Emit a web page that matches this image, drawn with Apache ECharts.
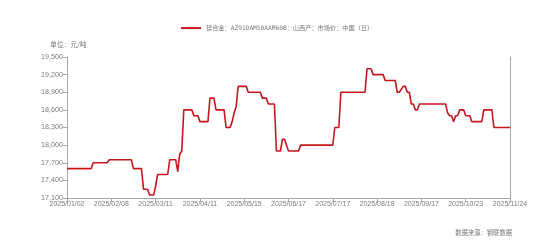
<!DOCTYPE html>
<html><head><meta charset="utf-8">
<script src="https://cdn.jsdelivr.net/npm/echarts@6/dist/echarts.min.js"></script>
<style>html,body{margin:0;padding:0;background:#fff}#c{width:554px;height:242px}</style>
</head><body><div id="c"></div>
<script>
var seriesName = '镁合金：AZ91DAM50AAM60B：山西产：市场价：中国（日）';
var tickLabels = ['2025/01/02','2025/02/08','2025/03/11','2025/04/11','2025/05/15','2025/06/17','2025/07/17','2025/08/18','2025/09/17','2025/10/23','2025/11/24'];
var dayIndex = [0,12,13,20,21,32,33,37,38,40,41,43,44,45,50,51,54,55,56,57,58,62,63,65,66,70,71,73,74,78,79,81,82,83,84,85,89,90,96,97,99,100,103,104,106,107,108,110,115,116,132,133,135,136,148,149,151,152,157,158,163,164,165,167,168,169,170,171,172,173,174,175,188,189,190,191,192,193,194,195,197,198,200,201,206,207,211,212,220];
var prices = [17600,17600,17700,17700,17750,17750,17600,17600,17250,17250,17150,17150,17300,17500,17500,17750,17750,17550,17850,17900,18600,18600,18500,18500,18400,18400,18800,18800,18600,18600,18300,18300,18400,18550,18650,19000,19000,18900,18900,18800,18800,18700,18700,17900,17900,18100,18100,17900,17900,18000,18000,18300,18300,18900,18900,19300,19300,19200,19200,19100,19100,18900,18900,19000,19000,18900,18900,18700,18700,18600,18600,18700,18700,18550,18500,18500,18400,18500,18500,18600,18600,18500,18500,18400,18400,18600,18600,18300,18300];
var yMin = 17100, yMax = 19500, yStep = 300;
var xStep = 22, xMax = 220;

var data = dayIndex.map(function(d,i){return [d, prices[i]];});
var chart = echarts.init(document.getElementById('c'));
var axisGray = '#a8a8a8';
var textGray = '#7a7a7a';
var labelFont = 'Liberation Sans, Arial, sans-serif';
chart.setOption({
  animation:false,
  textStyle:{fontFamily:'Noto Sans CJK SC, DejaVu Sans, sans-serif'},
  legend:{
    top:25, left:181, padding:0, itemWidth:20, itemHeight:2, itemGap:4,
    icon:'rect',
    textStyle:{fontSize:6.2, color:'#777', fontFamily:'DejaVu Sans Mono, Noto Sans CJK SC, monospace'},
    data:[seriesName]
  },
  grid:{left:67, right:44, top:57, bottom:44, containLabel:false},
  graphic:[
    {type:'text', left:50, top:41, style:{text:'单位：元/吨', fontSize:6.8, fill:'#777', fontFamily:'Noto Sans CJK SC'}},
    {type:'text', right:42, top:229, style:{text:'数据来源：钢联数据', fontSize:6.3, fill:'#777', fontFamily:'Noto Sans CJK SC'}}
  ],
  xAxis:{
    type:'value', min:0, max:xMax, interval:xStep,
    axisLine:{show:true, lineStyle:{color:axisGray}},
    axisTick:{show:true, length:4, lineStyle:{color:axisGray}},
    splitLine:{show:false},
    axisLabel:{color:textGray, fontSize:7, fontFamily:labelFont, margin:3, showMaxLabel:true, showMinLabel:true,
      formatter:function(v){return tickLabels[Math.round(v/xStep)] || '';}}
  },
  yAxis:[{
    type:'value', min:yMin, max:yMax, interval:yStep,
    axisLine:{show:true, lineStyle:{color:axisGray}},
    axisTick:{show:true, length:4, lineStyle:{color:axisGray}},
    splitLine:{show:false},
    axisLabel:{color:textGray, fontSize:7.2, fontFamily:labelFont, margin:4,
      formatter:function(v){return v.toLocaleString('en-US');}}
  },{
    type:'value', min:yMin, max:yMax, interval:yStep, position:'right',
    axisLine:{show:true, lineStyle:{color:axisGray}},
    axisTick:{show:false}, axisLabel:{show:false}, splitLine:{show:false}
  }],
  series:[{
    name:seriesName, type:'line', data:data, showSymbol:false, symbol:'none',
    smooth:false,
    lineStyle:{color:'#c8161e', width:1.6}, itemStyle:{color:'#c8161e'}
  }]
});
</script></body></html>
